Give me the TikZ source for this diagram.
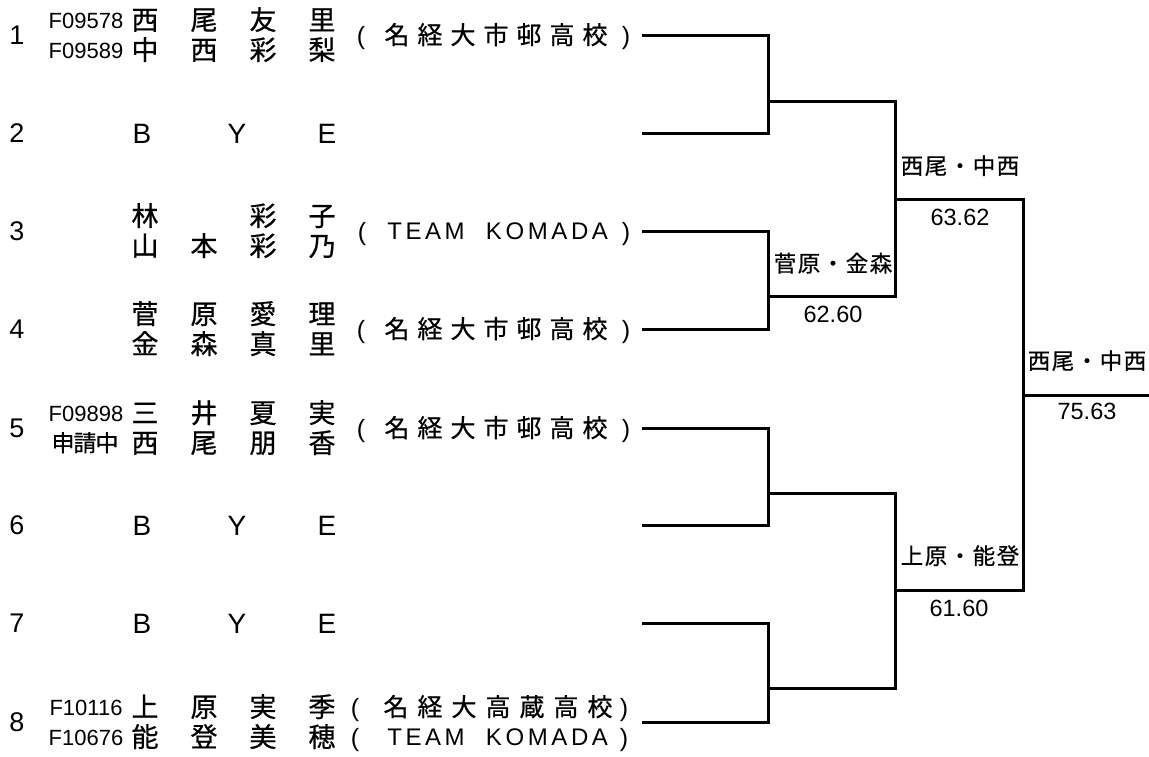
\documentclass[tikz,border=0pt]{standalone}
\usepackage{fontspec}
\setmainfont{Liberation Sans}
\newfontfamily\cjk[FakeBold=0.6]{Noto Sans CJK JP}
\newfontfamily\spc[LetterSpace=15]{Liberation Sans}
\newcommand\NmC[1]{\makebox[59pt][c]{#1}}
\newcommand\SchA[1]{\makebox[33pt][c]{#1}}
\newcommand\SchB[1]{\makebox[34pt][c]{#1}}
\newcommand\LbC[1]{\makebox[24pt][c]{#1}}
\newcommand\CdC[1]{\makebox[22pt][c]{#1}}
\tikzset{
  base/.style={inner sep=0pt, outer sep=0pt, anchor=center, text depth=0pt},
  num/.style={base, font=\fontsize{27}{27}\selectfont, text height=19.7pt},
  code/.style={base, font=\fontsize{22}{22}\selectfont, text height=16.06pt},
  nm/.style={base, font=\cjk\fontsize{27}{27}\selectfont, text height=19.7pt},
  cd/.style={base, font=\cjk\fontsize{23}{23}\selectfont, text height=16.8pt},
  sch/.style={base, font=\cjk\fontsize{25}{25}\selectfont, text height=18.25pt},
  lat/.style={base, font=\spc\fontsize{24}{24}\selectfont, text height=17.5pt},
  par/.style={base, font=\fontsize{25}{25}\selectfont, text height=18.2pt},
  bye/.style={base, font=\fontsize{28}{28}\selectfont, text height=20.4pt},
  lbl/.style={base, font=\cjk\fontsize{22.5}{22.5}\selectfont, text height=16.4pt},
  score/.style={base, font=\fontsize{23.5}{23.5}\selectfont, text height=17.2pt},
  bracket/.style={line width=3pt, line join=miter, black},
}
\begin{document}
\begin{tikzpicture}[x=1pt,y=-1pt]
\fill[white] (0,0) rectangle (1149,756);
\useasboundingbox (0,0) rectangle (1149,756);

% entry numbers
\node[num] (n1) at (17,35) {1};
\node[num] (n2) at (17,133) {2};
\node[num] (n3) at (17,231) {3};
\node[num] (n4) at (17,329) {4};
\node[num] (n5) at (17,428) {5};
\node[num] (n6) at (17,525) {6};
\node[num] (n7) at (17,623) {7};
\node[num] (n8) at (17,722) {8};

% entry 1
\node[code] (c1a) at (86,20) {F09578};
\node[code] (c1b) at (86,50) {F09589};
\node[nm] (p1a) at (233.5,20) {\NmC{西}\NmC{尾}\NmC{友}\NmC{里}};
\node[nm] (p1b) at (233.5,50) {\NmC{中}\NmC{西}\NmC{彩}\NmC{梨}};
\node[par] (l1) at (361,35) {(};
\node[sch] (s1t) at (496,35) {\SchA{名}\SchA{経}\SchA{大}\SchA{市}\SchA{邨}\SchA{高}\SchA{校}};
\node[par] (r1) at (626,35) {)};

% entry 2
\node[bye] (b2) at (142,133) {B};
\node[bye] (y2) at (237,133) {Y};
\node[bye] (e2) at (327,133) {E};

% entry 3
\node[nm] (p3a) at (233.5,216) {\NmC{林}\NmC{}\NmC{彩}\NmC{子}};
\node[nm] (p3b) at (233.5,246) {\NmC{山}\NmC{本}\NmC{彩}\NmC{乃}};
\node[par] (l3) at (362,231) {(};
\node[lat] (t3a) at (426,231) {TEAM};
\node[lat] (t3b) at (547,231) {KOMADA};
\node[par] (r3) at (626,231) {)};

% entry 4
\node[nm] (p4a) at (233.5,314) {\NmC{菅}\NmC{原}\NmC{愛}\NmC{理}};
\node[nm] (p4b) at (233.5,344) {\NmC{金}\NmC{森}\NmC{真}\NmC{里}};
\node[par] (l4) at (361,329) {(};
\node[sch] (s4t) at (496,329) {\SchA{名}\SchA{経}\SchA{大}\SchA{市}\SchA{邨}\SchA{高}\SchA{校}};
\node[par] (r4) at (626,329) {)};

% entry 5
\node[code] (c5a) at (86,413) {F09898};
\node[cd] (c5b) at (85,443) {\CdC{申}\CdC{請}\CdC{中}};
\node[nm] (p5a) at (233.5,413) {\NmC{三}\NmC{井}\NmC{夏}\NmC{実}};
\node[nm] (p5b) at (233.5,443) {\NmC{西}\NmC{尾}\NmC{朋}\NmC{香}};
\node[par] (l5) at (361,428) {(};
\node[sch] (s5t) at (496,428) {\SchA{名}\SchA{経}\SchA{大}\SchA{市}\SchA{邨}\SchA{高}\SchA{校}};
\node[par] (r5) at (626,428) {)};

% entry 6
\node[bye] (b6) at (142,525) {B};
\node[bye] (y6) at (237,525) {Y};
\node[bye] (e6) at (327,525) {E};

% entry 7
\node[bye] (b7) at (142,623) {B};
\node[bye] (y7) at (237,623) {Y};
\node[bye] (e7) at (327,623) {E};

% entry 8
\node[code] (c8a) at (86,707) {F10116};
\node[code] (c8b) at (86,737) {F10676};
\node[nm] (p8a) at (233.5,707) {\NmC{上}\NmC{原}\NmC{実}\NmC{季}};
\node[nm] (p8b) at (233.5,737) {\NmC{能}\NmC{登}\NmC{美}\NmC{穂}};
\node[par] (l8a) at (355,707) {(};
\node[sch] (s8t) at (498,707) {\SchB{名}\SchB{経}\SchB{大}\SchB{高}\SchB{蔵}\SchB{高}\SchB{校}};
\node[par] (r8a) at (624,707) {)};
\node[par] (l8b) at (355,737) {(};
\node[lat] (t8a) at (426,737) {TEAM};
\node[lat] (t8b) at (547,737) {KOMADA};
\node[par] (r8b) at (624,737) {)};

% bracket coordinates
\coordinate (a1) at (642,35);  \coordinate (v1) at (768,35);
\coordinate (a2) at (642,133); \coordinate (v2) at (768,133);
\coordinate (a3) at (642,231); \coordinate (v3) at (768,231);
\coordinate (a4) at (642,329); \coordinate (v4) at (768,329);
\coordinate (a5) at (642,428); \coordinate (v5) at (768,428);
\coordinate (a6) at (642,525); \coordinate (v6) at (768,525);
\coordinate (a7) at (642,623); \coordinate (v7) at (768,623);
\coordinate (a8) at (642,722); \coordinate (v8) at (768,722);
\coordinate (m12) at (768,101); \coordinate (w12) at (895,101);
\coordinate (m34) at (768,296); \coordinate (w34) at (895,296);
\coordinate (m56) at (768,493); \coordinate (w56) at (895,493);
\coordinate (m78) at (768,688); \coordinate (w78) at (895,688);
\coordinate (q14) at (895,199); \coordinate (k14) at (1023,199);
\coordinate (q58) at (895,590); \coordinate (k58) at (1023,590);
\coordinate (fa) at (1023,395); \coordinate (fb) at (1149,395);

\draw[bracket] (a1) -- (v1) -- (v2) -- (a2);
\draw[bracket] (a3) -- (v3) -- (v4) -- (a4);
\draw[bracket] (a5) -- (v5) -- (v6) -- (a6);
\draw[bracket] (a7) -- (v7) -- (v8) -- (a8);
\draw[bracket] (m12) -- (w12) -- (w34) -- (m34);
\draw[bracket] (m56) -- (w56) -- (w78) -- (m78);
\draw[bracket] (q14) -- (k14) -- (k58) -- (q58);
\draw[bracket] (fa) -- (fb);

% winners and scores
\node[lbl] (w1) at (833,263.5) {\LbC{菅}\LbC{原}\LbC{・}\LbC{金}\LbC{森}};
\node[score] (sc1) at (833,314) {62.60};
\node[lbl] (w2) at (960,166) {\LbC{西}\LbC{尾}\LbC{・}\LbC{中}\LbC{西}};
\node[score] (sc2) at (960,216.5) {63.62};
\node[lbl] (w3) at (960,556) {\LbC{上}\LbC{原}\LbC{・}\LbC{能}\LbC{登}};
\node[score] (sc3) at (959,608) {61.60};
\node[lbl] (w4) at (1087,361) {\LbC{西}\LbC{尾}\LbC{・}\LbC{中}\LbC{西}};
\node[score] (sc4) at (1087,411) {75.63};
\end{tikzpicture}
\end{document}
